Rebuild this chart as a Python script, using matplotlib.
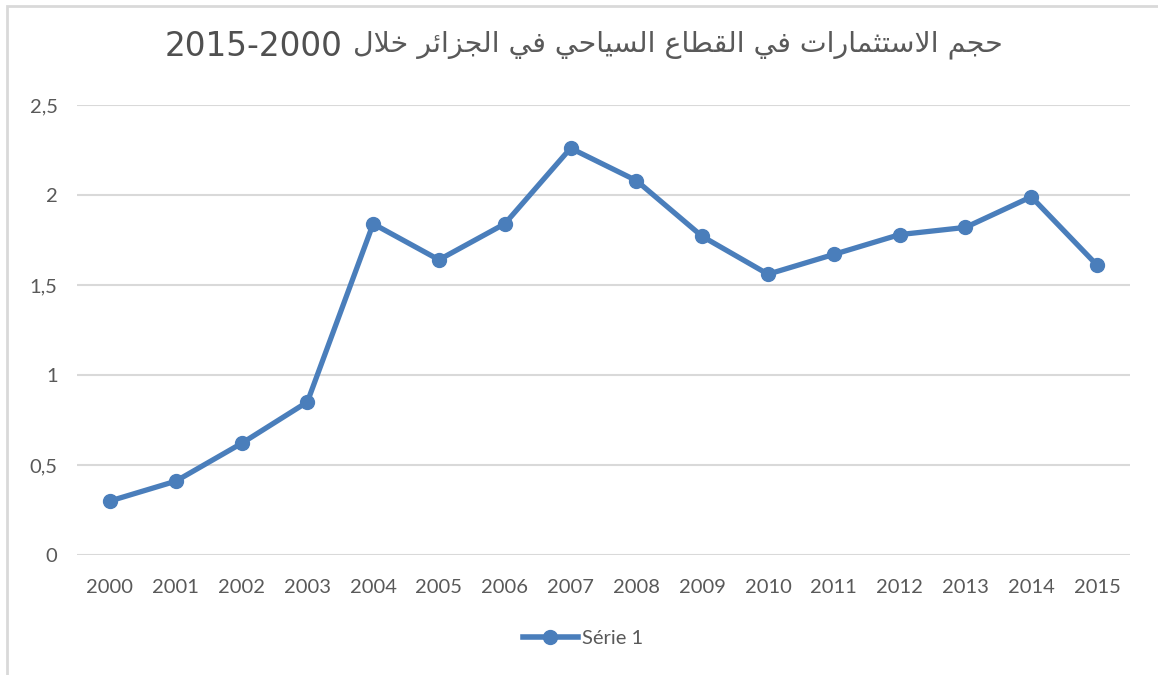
import matplotlib
matplotlib.use("Agg")
import matplotlib.pyplot as plt
from matplotlib.lines import Line2D
from matplotlib.patches import Rectangle

# Donnees
annees = ["2000", "2001", "2002", "2003", "2004", "2005", "2006", "2007",
          "2008", "2009", "2010", "2011", "2012", "2013", "2014", "2015"]
valeurs = [0.30, 0.41, 0.62, 0.85, 1.84, 1.64, 1.84, 2.26,
           2.08, 1.77, 1.56, 1.67, 1.78, 1.82, 1.99, 1.61]
yticks = [0, 0.5, 1, 1.5, 2, 2.5]
ylabels = ["0", "0,5", "1", "1,5", "2", "2,5"]
titre_ar = "حجم الاستثمارات في القطاع السياحي في الجزائر خلال"
titre_num = "2015-2000"
serie = "Série 1"

# formes contextuelles arabes (isole, final, initial, median)
FORMES = {
    "ا": ("\uFE8D", "\uFE8E", None, None),
    "ت": ("\uFE95", "\uFE96", "\uFE97", "\uFE98"),
    "ث": ("\uFE99", "\uFE9A", "\uFE9B", "\uFE9C"),
    "ج": ("\uFE9D", "\uFE9E", "\uFE9F", "\uFEA0"),
    "ح": ("\uFEA1", "\uFEA2", "\uFEA3", "\uFEA4"),
    "خ": ("\uFEA5", "\uFEA6", "\uFEA7", "\uFEA8"),
    "ر": ("\uFEAD", "\uFEAE", None, None),
    "ز": ("\uFEAF", "\uFEB0", None, None),
    "س": ("\uFEB1", "\uFEB2", "\uFEB3", "\uFEB4"),
    "ط": ("\uFEC1", "\uFEC2", "\uFEC3", "\uFEC4"),
    "ع": ("\uFEC9", "\uFECA", "\uFECB", "\uFECC"),
    "ف": ("\uFED1", "\uFED2", "\uFED3", "\uFED4"),
    "ق": ("\uFED5", "\uFED6", "\uFED7", "\uFED8"),
    "ل": ("\uFEDD", "\uFEDE", "\uFEDF", "\uFEE0"),
    "م": ("\uFEE1", "\uFEE2", "\uFEE3", "\uFEE4"),
    "ي": ("\uFEF1", "\uFEF2", "\uFEF3", "\uFEF4"),
    "ئ": ("\uFE89", "\uFE8A", "\uFE8B", "\uFE8C"),
    "لا": ("\uFEFB", "\uFEFC", None, None),
}


def joint_gauche(c):
    return c in FORMES and FORMES[c][2] is not None


def mettre_en_forme(texte):
    mots = []
    for mot in texte.split(" "):
        lettres = []
        i = 0
        while i < len(mot):
            if mot[i] == "ل" and i + 1 < len(mot) and mot[i + 1] == "ا":
                lettres.append("لا")
                i += 2
            else:
                lettres.append(mot[i])
                i += 1
        res = ""
        for k, c in enumerate(lettres):
            avant = k > 0 and joint_gauche(lettres[k - 1])
            apres = joint_gauche(c) and k + 1 < len(lettres)
            f = FORMES[c]
            if avant and apres:
                res += f[3]
            elif avant:
                res += f[1]
            elif apres:
                res += f[2]
            else:
                res += f[0]
        mots.append(res)
    return " ".join(mots)[::-1]


gris = "#595959"
bleu = "#4a7ebb"

fig = plt.figure(figsize=(11.58, 6.75), dpi=100)
ax = fig.add_axes([77 / 1158, 1 - 555 / 675, 1053 / 1158, 450 / 675])

x = list(range(len(annees)))
ax.plot(x, valeurs, color=bleu, lw=3.8, marker="o", ms=10, zorder=3,
        solid_capstyle="round")

ax.set_xlim(-0.5, len(annees) - 0.5)
ax.set_ylim(0, 2.5)
ax.set_yticks(yticks)
ax.set_yticklabels(ylabels)
ax.set_xticks(x)
ax.set_xticklabels(annees)
ax.grid(axis="y", color="#d9d9d9", lw=1.5)
ax.set_axisbelow(True)
for s in ax.spines.values():
    s.set_visible(False)
ax.tick_params(length=0, labelsize=14.5, labelcolor=gris, pad=17)
ax.tick_params(axis="y", pad=14)
for lab in ax.get_xticklabels() + ax.get_yticklabels():
    lab.set_fontfamily("Lato")

# titre
fig.text(1003 / 1158, 1 - 45 / 675, mettre_en_forme(titre_ar), ha="right",
         va="center", fontsize=20.5, color=gris, family="DejaVu Sans")
fig.text(165 / 1158, 1 - 47 / 675, titre_num, ha="left", va="center",
         fontsize=23.5, color="#505050", family="DejaVu Sans")

# legende
h = Line2D([], [], color=bleu, lw=4, marker="o", ms=10)
fig.legend([h], [serie], loc="center", bbox_to_anchor=(583 / 1158, 1 - 638 / 675),
           frameon=False, prop={"family": "Lato", "size": 14.5},
           labelcolor=gris, handlelength=2.7, handletextpad=0.2)

# cadre
fig.patches.append(Rectangle((7 / 1158, -0.1), 1.2, 1 - 6 / 675 + 0.1,
                             transform=fig.transFigure, fill=False,
                             ec="#d9d9d9", lw=2))

fig.savefig("out.png", dpi=100)
